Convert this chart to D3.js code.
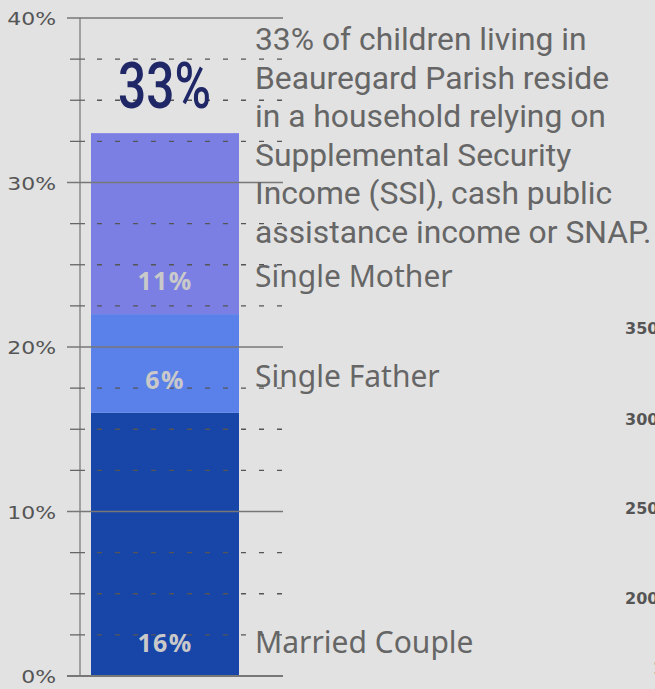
<!DOCTYPE html>
<html><head><meta charset="utf-8">
<script src="https://cdn.jsdelivr.net/npm/d3@7"></script>
<style>html,body{margin:0;padding:0;background:#e2e2e2;overflow:hidden}</style>
</head><body>
<svg id="c" width="655" height="689"></svg>
<script>
const categories = ["Married Couple", "Single Father", "Single Mother"];
const values = [16, 6, 11];
const totalLabel = "33%";
const majorTicks = [0, 10, 20, 30, 40];
const minorTicks = [2.5, 5, 7.5, 12.5, 15, 17.5, 22.5, 25, 27.5, 32.5, 35, 37.5];
const titleLines = ["33% of children living in", "Beauregard Parish reside", "in a household relying on", "Supplemental Security", "Income (SSI), cash public", "assistance income or SNAP."];
const sideTickLabels = ["350", "300", "250", "200", "150"];
const sideTickY = [328, 419, 508, 598, 668];
const colors = ["#1745a8", "#5a80ea", "#7b7fe3"];

const svg = d3.select("#c");
svg.append("rect").attr("width", 655).attr("height", 689).attr("fill", "#e2e2e2");

const y = d3.scaleLinear().domain([0, 40]).range([676, 18]);
const x = d3.scaleBand().domain(["Beauregard"]).range([91, 239]).padding(0);

let acc = 0;
const stacked = values.map((v, i) => { const d = {cat: categories[i], v, y0: acc, y1: acc + v, i}; acc += v; return d; });

svg.selectAll("rect.seg").data(stacked).join("rect")
  .attr("x", x("Beauregard")).attr("width", x.bandwidth())
  .attr("y", d => y(d.y1)).attr("height", d => y(d.y0) - y(d.y1))
  .attr("fill", d => colors[d.i]);

// axis line
svg.append("line").attr("x1", 80).attr("x2", 80).attr("y1", y(40)).attr("y2", y(0))
  .attr("stroke", "#a0a0a0").attr("stroke-width", 2);

// minor grid
const mg = svg.append("g");
minorTicks.forEach(t => {
  mg.append("line").attr("x1", 70).attr("x2", 85).attr("y1", y(t)).attr("y2", y(t))
    .attr("stroke", "#666").attr("stroke-width", 1.3);
  mg.append("line").attr("x1", 97).attr("x2", 285).attr("y1", y(t)).attr("y2", y(t))
    .attr("stroke", "#555").attr("stroke-width", 1.3).attr("stroke-dasharray", "5,13");
});
// major grid
majorTicks.forEach(t => {
  svg.append("line").attr("x1", 67).attr("x2", 283).attr("y1", y(t)).attr("y2", y(t))
    .attr("stroke", "#777").attr("stroke-width", t === 0 ? 2 : 1.3);
});
// tick labels (wide geometric look)
svg.selectAll("text.tick").data(majorTicks).join("text")
  .attr("text-anchor", "end")
  .attr("transform", d => `translate(56,${y(d) + 7}) scale(1.22,1)`)
  .attr("font-family", "DejaVu Sans").attr("font-size", 18).attr("fill", "#555")
  .text(d => d + "%");

// big total label
const big = svg.append("text").attr("font-family", "Roboto").attr("font-weight", 500)
  .attr("font-size", 65).attr("fill", "#1f2766").text(totalLabel);
const bl = big.node().getComputedTextLength();
const sx = 93 / bl;
big.attr("transform", `translate(118,108) scale(${sx},1)`);

// segment labels
svg.selectAll("text.seg").data(stacked).join("text")
  .attr("x", x("Beauregard") + x.bandwidth() / 2)
  .attr("y", d => d.i === 0 ? 652 : (d.i === 1 ? 389 : 290))
  .attr("text-anchor", "middle").attr("font-family", "Open Sans").attr("font-weight", 700)
  .attr("font-size", 25).attr("letter-spacing", 1.3).attr("fill", "#c9c9c9").text(d => d.v + "%");

// category labels
svg.selectAll("text.cat").data(stacked).join("text")
  .attr("x", 255).attr("y", d => d.i === 0 ? 653 : (d.i === 1 ? 387 : 287))
  .attr("font-family", "Noto Sans").attr("font-size", 30).attr("fill", "#666")
  .text(d => d.cat);

// title block
svg.selectAll("text.title").data(titleLines).join("text")
  .attr("x", 255).attr("y", (d, i) => 50 + i * 38.5)
  .attr("font-family", "Roboto").attr("font-size", 31.8).attr("fill", "#666")
  .text(d => d);

// partial neighbouring chart ticks (cut off at the right edge, as in the reference)
svg.selectAll("text.side").data(sideTickLabels).join("text")
  .attr("x", (d, i) => i === 4 ? 653 : 625).attr("y", (d, i) => sideTickY[i] + 6)
  .attr("font-family", "DejaVu Sans").attr("font-weight", 700).attr("font-size", 16).attr("fill", "#555")
  .text(d => d);
</script>
</body></html>
